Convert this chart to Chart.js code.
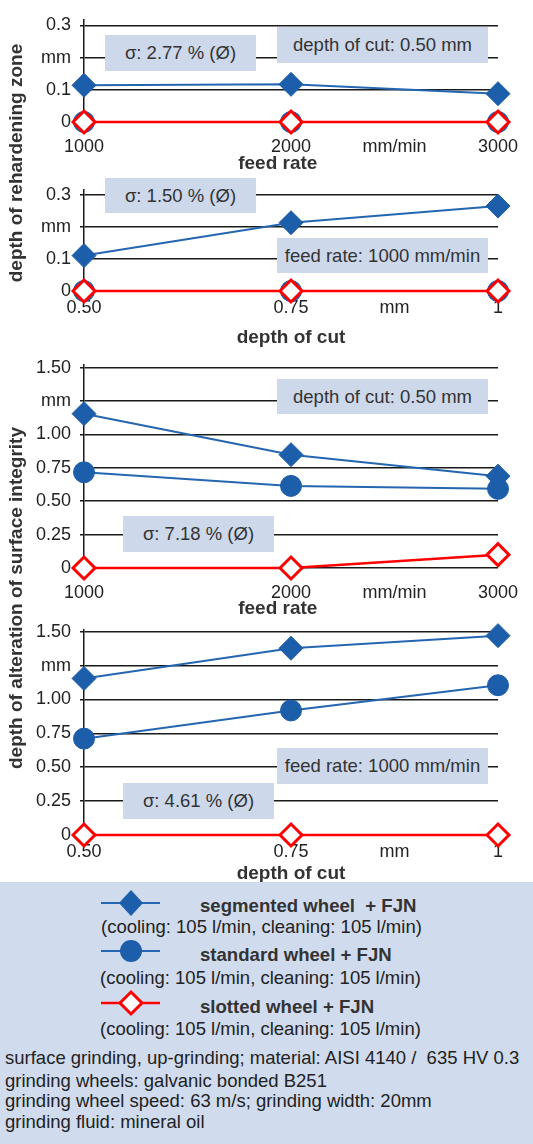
<!DOCTYPE html>
<html>
<head>
<meta charset="utf-8">
<script src="https://cdn.jsdelivr.net/npm/chart.js@4.4.1/dist/chart.umd.min.js"></script>
<style>
  body { margin: 0; width: 533px; height: 1144px; position: relative; overflow: hidden; background: #fff;
         font-family: "Liberation Sans", Arial, sans-serif; color: #222; }
  canvas { position: absolute; left: 0; }
  .box { position: absolute; background: #cdd9eb; color: #333; font-size: 18.5px; display: flex;
         align-items: center; justify-content: center; white-space: nowrap; }
  .ytitle { position: absolute; font-weight: bold; font-size: 19px; color: #333; white-space: nowrap;
            transform: translate(-50%, -50%) rotate(-90deg); }
  #legend { position: absolute; left: 0; top: 882px; width: 533px; height: 262px; background: #d0dcee; }
  .lt { position: absolute; font-size: 18.5px; line-height: 22px; white-space: nowrap; color: #222; }
  .lt.b { font-weight: bold; font-size: 18.6px; color: #333; }
  svg { position: absolute; }
</style>
</head>
<body>
<canvas id="c1" width="533" height="178" style="top:0px"></canvas>
<canvas id="c2" width="533" height="182" style="top:170px"></canvas>
<canvas id="c3" width="533" height="278" style="top:345px"></canvas>
<canvas id="c4" width="533" height="279" style="top:610px"></canvas>

<div class="box" style="left:105px;top:35px;width:151px;height:36px">σ: 2.77 % (Ø)</div>
<div class="box" style="left:277px;top:27px;width:211px;height:36px">depth of cut: 0.50 mm</div>
<div class="box" style="left:105px;top:178px;width:151px;height:35px">σ: 1.50 % (Ø)</div>
<div class="box" style="left:277px;top:238px;width:211px;height:35px">feed rate: 1000 mm/min</div>
<div class="box" style="left:277px;top:379px;width:211px;height:35px">depth of cut: 0.50 mm</div>
<div class="box" style="left:123px;top:516px;width:151px;height:36px">σ: 7.18 % (Ø)</div>
<div class="box" style="left:277px;top:748px;width:211px;height:36px">feed rate: 1000 mm/min</div>
<div class="box" style="left:123px;top:783px;width:151px;height:36px">σ: 4.61 % (Ø)</div>

<div class="ytitle" style="left:16px;top:163px">depth of rehardening zone</div>
<div class="ytitle" style="left:16px;top:598px">depth of alteration of surface integrity</div>

<div id="legend"></div>
<svg style="left:0;top:882px" width="533" height="140">
  <line x1="101" y1="21" x2="160" y2="21" stroke="#2466b0" stroke-width="2"/>
  <polygon points="131,8 143,21 131,34 119,21" fill="#1c5ea9"/>
  <line x1="101" y1="69" x2="160" y2="69" stroke="#2466b0" stroke-width="2"/>
  <circle cx="131" cy="69" r="11" fill="#1c5ea9"/>
  <line x1="101" y1="121" x2="160" y2="121" stroke="#ff0000" stroke-width="2.5"/>
  <polygon points="131,110 142,121 131,132 120,121" fill="#fff" stroke="#ff0000" stroke-width="3"/>
</svg>
<div class="lt b" style="left:200px;top:895px">segmented wheel&nbsp; + FJN</div>
<div class="lt" style="left:101px;top:916px">(cooling: 105 l/min, cleaning: 105 l/min)</div>
<div class="lt b" style="left:200px;top:944px">standard wheel + FJN</div>
<div class="lt" style="left:100px;top:967px">(cooling: 105 l/min, cleaning: 105 l/min)</div>
<div class="lt b" style="left:200px;top:996px">slotted wheel + FJN</div>
<div class="lt" style="left:100px;top:1018px">(cooling: 105 l/min, cleaning: 105 l/min)</div>
<div class="lt" style="left:5px;top:1047px">surface grinding, up-grinding; material: AISI 4140 /&nbsp; 635 HV 0.3</div>
<div class="lt" style="left:5px;top:1070px">grinding wheels: galvanic bonded B251</div>
<div class="lt" style="left:5px;top:1090px">grinding wheel speed: 63 m/s; grinding width: 20mm</div>
<div class="lt" style="left:5px;top:1111px">grinding fluid: mineral oil</div>

<script>
// x categories
const feedRates = [1000, 2000, 3000];
const depthsOfCut = [0.5, 0.75, 1];

// depth of rehardening zone (mm)
const rehardFeedSegmented = [0.114, 0.117, 0.088];
const rehardFeedStandard = [0, 0, 0];
const rehardFeedSlotted = [0, 0, 0];
const rehardDepthSegmented = [0.111, 0.214, 0.266];
const rehardDepthStandard = [0, 0, 0];
const rehardDepthSlotted = [0, 0, 0];

// depth of alteration of surface integrity (mm)
const alterFeedSegmented = [1.156, 0.849, 0.688];
const alterFeedStandard = [0.717, 0.615, 0.593];
const alterFeedSlotted = [0, 0, 0.10];
const alterDepthSegmented = [1.155, 1.378, 1.471];
const alterDepthStandard = [0.711, 0.919, 1.105];
const alterDepthSlotted = [0, 0, 0];

// tick labels
const feedTicks = [1000, 2000, 2500, 3000];
const feedTickLabels = ['1000', '2000', 'mm/min', '3000'];
const depthTicks = [0.5, 0.75, 0.875, 1];
const depthTickLabels = ['0.50', '0.75', 'mm', '1'];
const rehardTicks = [0, 0.1, 0.2, 0.3];
const rehardTickLabels = ['0', '0.1', 'mm', '0.3'];
const alterTicks = [0, 0.25, 0.5, 0.75, 1, 1.25, 1.5];
const alterTickLabels = ['0', '0.25', '0.50', '0.75', '1.00', 'mm', '1.50'];

Chart.defaults.font.family = '"Liberation Sans", Arial, sans-serif';
Chart.defaults.color = '#222';

const BLUE = '#1c5ea9';
const BLUE_LINE = '#2466b0';
const RED = '#ff0000';
const GRID = '#1a1a1a';

function pts(xs, ys) {
    return xs.map((x, i) => ({ x: x, y: ys[i] }));
}

function makeChart(id, cfg) {
    const ctx = document.getElementById(id).getContext('2d');
    const h = document.getElementById(id).height;
    new Chart(ctx, {
        type: 'line',
        data: {
            datasets: [
                {
                    label: 'slotted wheel + FJN', order: 0,
                    data: pts(cfg.xs, cfg.slotted),
                    borderColor: RED, borderWidth: 2.5,
                    pointStyle: 'rectRot', pointRadius: 11,
                    pointBackgroundColor: '#fff', pointBorderColor: RED, pointBorderWidth: 3
                },
                {
                    label: 'segmented wheel + FJN', order: 1,
                    data: pts(cfg.xs, cfg.segmented),
                    borderColor: BLUE_LINE, borderWidth: 2,
                    pointStyle: 'rectRot', pointRadius: 12,
                    pointBackgroundColor: BLUE, pointBorderColor: BLUE, pointBorderWidth: 1
                },
                {
                    label: 'standard wheel + FJN', order: 2,
                    data: pts(cfg.xs, cfg.standard),
                    borderColor: BLUE_LINE, borderWidth: 2,
                    pointStyle: 'circle', pointRadius: 10.5,
                    pointBackgroundColor: BLUE, pointBorderColor: BLUE, pointBorderWidth: 1
                }
            ]
        },
        options: {
            responsive: false,
            animation: false,
            clip: false,
            layout: { padding: { top: cfg.top, bottom: h - cfg.bottom - cfg.xh, left: 0, right: 35 } },
            plugins: { legend: { display: false }, tooltip: { enabled: false } },
            elements: { line: { tension: 0 } },
            scales: {
                x: {
                    type: 'linear',
                    min: cfg.xs[0], max: cfg.xs[cfg.xs.length - 1],
                    afterBuildTicks: s => { s.ticks = cfg.xTicks.map(v => ({ value: v })); },
                    afterFit: s => { s.height = cfg.xh; },
                    grid: { display: false, drawTicks: false },
                    border: { display: false },
                    ticks: {
                        autoSkip: false, maxRotation: 0, padding: cfg.tickPad,
                        font: { size: 18 }, color: '#222',
                        callback: v => cfg.xLabels[cfg.xTicks.indexOf(v)]
                    },
                    title: {
                        display: true, text: cfg.xTitle, color: '#333',
                        font: { size: 19, weight: 'bold' }, padding: 0
                    }
                },
                y: {
                    min: 0, max: cfg.yMax,
                    afterBuildTicks: s => { s.ticks = cfg.yTicks.map(v => ({ value: v })); },
                    afterFit: s => { s.width = 84; },
                    grid: { color: GRID, lineWidth: 1.5, tickLength: 4, tickColor: GRID },
                    border: { display: true, color: GRID, width: 1.5 },
                    ticks: {
                        padding: 9, font: { size: 18 }, color: '#222',
                        callback: v => cfg.yLabels[cfg.yTicks.indexOf(v)]
                    }
                }
            }
        }
    });
}

makeChart('c1', {
    xs: feedRates, segmented: rehardFeedSegmented, standard: rehardFeedStandard, slotted: rehardFeedSlotted,
    xTicks: feedTicks, xLabels: feedTickLabels, yTicks: rehardTicks, yLabels: rehardTickLabels,
    yMax: 0.3175, top: 13, bottom: 122, xh: 53, tickPad: 14, xTitle: 'feed rate     '
});
makeChart('c2', {
    xs: depthsOfCut, segmented: rehardDepthSegmented, standard: rehardDepthStandard, slotted: rehardDepthSlotted,
    xTicks: depthTicks, xLabels: depthTickLabels, yTicks: rehardTicks, yLabels: rehardTickLabels,
    yMax: 0.317, top: 10, bottom: 121, xh: 58, tickPad: 6.5, xTitle: 'depth of cut'
});
makeChart('c3', {
    xs: feedRates, segmented: alterFeedSegmented, standard: alterFeedStandard, slotted: alterFeedSlotted,
    xTicks: feedTicks, xLabels: feedTickLabels, yTicks: alterTicks, yLabels: alterTickLabels,
    yMax: 1.522, top: 15, bottom: 223, xh: 52, tickPad: 14, xTitle: 'feed rate     '
});
makeChart('c4', {
    xs: depthsOfCut, segmented: alterDepthSegmented, standard: alterDepthStandard, slotted: alterDepthSlotted,
    xTicks: depthTicks, xLabels: depthTickLabels, yTicks: alterTicks, yLabels: alterTickLabels,
    yMax: 1.514, top: 14, bottom: 225, xh: 50, tickPad: 6.7, xTitle: 'depth of cut'
});
</script>
</body>
</html>
